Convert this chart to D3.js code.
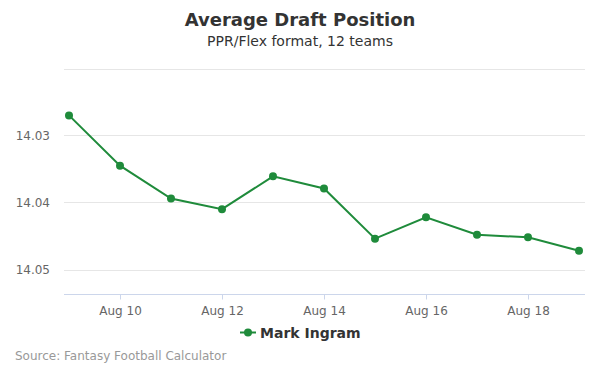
<!DOCTYPE html>
<html><head><meta charset="utf-8">
<script src="https://cdn.jsdelivr.net/npm/d3@7"></script>
<style>body{margin:0;background:#fff}svg{font-family:"DejaVu Sans",sans-serif}</style>
</head><body>
<svg id="c" width="600" height="375"></svg>
<script>
const dates = ["2023-08-09","2023-08-10","2023-08-11","2023-08-12","2023-08-13","2023-08-14","2023-08-15","2023-08-16","2023-08-17","2023-08-18","2023-08-19"];
const adp = [14.0270,14.0345,14.0394,14.0410,14.0361,14.0379,14.0454,14.0422,14.0448,14.0452,14.0472];
const yTicks = [14.02,14.03,14.04,14.05];
const xTickDates = ["2023-08-10","2023-08-12","2023-08-14","2023-08-16","2023-08-18"];
const seriesName = "Mark Ingram";
const title = "Average Draft Position";
const subtitle = "PPR/Flex format, 12 teams";
const source = "Source: Fantasy Football Calculator";

(function(){
const parse = d3.utcParse("%Y-%m-%d");
const svg = d3.select("#c");
const plotL = 64, plotR = 585, plotT = 68.5, plotB = 294.5;
const color = "#1f8b3b";

const x = d3.scaleUtc().domain([parse(dates[0]), parse(dates[dates.length-1])]).range([69, 579]);
const y = d3.scaleLinear().domain([14.02, 14.02 + (plotB-plotT)/6700]).range([plotT, plotB]);

// gridlines
svg.append("g").selectAll("line").data(yTicks).join("line")
  .attr("x1", plotL).attr("x2", plotR)
  .attr("y1", d => Math.round(y(d))+0.5).attr("y2", d => Math.round(y(d))+0.5)
  .attr("stroke", "#e6e6e6").attr("stroke-width", 1);

// y labels (skip top)
svg.append("g").selectAll("text").data(yTicks.slice(1)).join("text")
  .attr("x", 50).attr("y", d => y(d)+4).attr("text-anchor","end")
  .attr("font-size", 12).attr("fill", "#666").text(d => d.toFixed(2));

// x axis
const xAxis = d3.axisBottom(x).tickValues(xTickDates.map(parse))
  .tickFormat(d3.utcFormat("Aug %-d")).tickSize(5).tickSizeOuter(0);
const gx = svg.append("g").attr("transform", `translate(0,${plotB})`).call(xAxis);
gx.select(".domain").remove();
gx.selectAll(".tick line").attr("stroke", "#ccd6eb");
gx.selectAll(".tick text").attr("fill", "#666").attr("font-size", 12)
  .attr("font-family", "DejaVu Sans, sans-serif").attr("dy", null).attr("y", 20);
svg.append("line").attr("x1", plotL).attr("x2", plotR).attr("y1", plotB).attr("y2", plotB)
  .attr("stroke", "#ccd6eb");

// line
const pts = dates.map((d,i) => ({d: parse(d), v: adp[i]}));
svg.append("path").datum(pts)
  .attr("d", d3.line().x(p => x(p.d)).y(p => y(p.v)))
  .attr("fill", "none").attr("stroke", color).attr("stroke-width", 2);
svg.append("g").selectAll("circle").data(pts).join("circle")
  .attr("cx", p => x(p.d)).attr("cy", p => y(p.v)).attr("r", 4).attr("fill", color);

// titles
svg.append("text").attr("x", 300).attr("y", 26).attr("text-anchor", "middle")
  .attr("font-size", 18).attr("font-weight", "bold").attr("fill", "#333").text(title);
svg.append("text").attr("x", 300).attr("y", 46).attr("text-anchor", "middle")
  .attr("font-size", 14).attr("fill", "#333").text(subtitle);

// legend
const lg = svg.append("g");
lg.append("line").attr("x1", 240).attr("x2", 256).attr("y1", 332.5).attr("y2", 332.5)
  .attr("stroke", color).attr("stroke-width", 2);
lg.append("circle").attr("cx", 248).attr("cy", 332.5).attr("r", 4).attr("fill", color);
lg.append("text").attr("x", 260).attr("y", 337.5).attr("font-size", 14).attr("font-weight", "bold")
  .attr("fill", "#333").text(seriesName);

svg.append("text").attr("x", 15).attr("y", 360).attr("font-size", 12).attr("fill", "#999").text(source);
})();
</script>
</body></html>
